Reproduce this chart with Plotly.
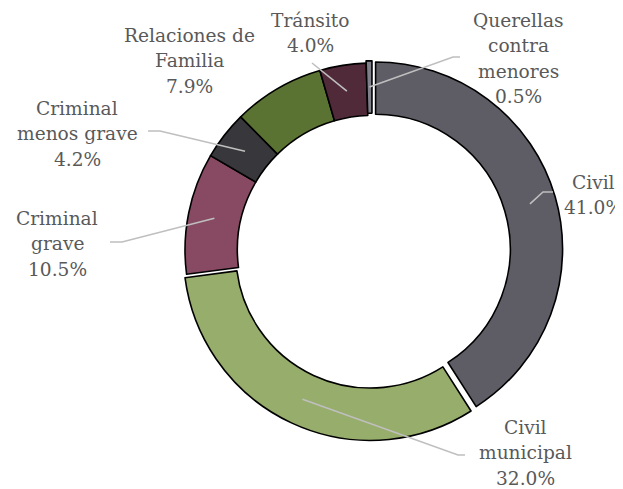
import math
import plotly.graph_objects as go

# ---- data ----
categories = ["Civil", "Civil municipal", "Criminal grave", "Criminal menos grave",
              "Relaciones de Familia", "Tránsito", "Querellas contra menores"]
values = [41.0, 32.0, 10.5, 4.2, 7.9, 4.0, 0.5]
label_lines = [["Civil"], ["Civil", "municipal"], ["Criminal", "grave"],
               ["Criminal", "menos grave"], ["Relaciones de", "Familia"],
               ["Tránsito"], ["Querellas", "contra", "menores"]]

# ---- styling / layout ----
colors = ["#5e5d65", "#97ad6b", "#874a62", "#38373c", "#5b7332", "#512a3a", "#80808a"]
pulls = [0.02, 0.02, 0, 0, 0, 0, 0.012]
OFF = 8                      # page body margin of the browser
WIN_W, WIN_H = 623, 489
W, H = WIN_W - OFF, WIN_H - OFF
CX, CY, R = 372, 250, 187    # window pixels
HOLE = 0.72
FONT = "DejaVu Serif"
FS = 18.6
LINE_H = 25.5
TXT_COL = "#595959"
LEAD_COL = "#bfbfbf"

# label placement (text centre x, first-line y) and leader end points, in window pixels
label_x = [593, 525, 57, 77, 189, 310, 518]
label_y = [182, 427, 218, 108, 35, 20, 20]
leader_end = [(553, 192), (465, 455), (110, 242), (148, 131), None, (312, 63), (460, 57)]
elbow_len = [10, 7, 12, 12, 0, 0, 7]

max_pull = max(pulls)
box = 2 * R * (1 + max_pull)


def px(x):
    return (x - OFF) / W


def py(y):
    return 1 - (y - OFF) / H


fig = go.Figure(go.Pie(
    labels=categories, values=values, sort=False, direction="clockwise", rotation=0,
    hole=HOLE, pull=pulls, textinfo="none", hoverinfo="label+percent",
    marker=dict(colors=colors, line=dict(color="#000000", width=1.6)),
    domain=dict(x=[px(CX - box / 2), px(CX + box / 2)],
                y=[py(CY + box / 2), py(CY - box / 2)]),
    showlegend=False,
))

total = sum(values)
cum = 0.0
shapes = []
annotations = []
for i, v in enumerate(values):
    mid = (cum + v / 2) / total * 2 * math.pi
    cum += v
    # leader line
    if leader_end[i] is not None:
        rr = R * ((1 + HOLE) / 2 + pulls[i])
        sx = CX + rr * math.sin(mid)
        sy = CY - rr * math.cos(mid)
        ex, ey = leader_end[i]
        pts = [(sx, sy)]
        if elbow_len[i]:
            d = 1 if ex > CX else -1
            pts.append((ex - d * elbow_len[i], ey))
        pts.append((ex, ey))
        path = "M " + " L ".join(f"{px(a):.5f},{py(b):.5f}" for a, b in pts)
        shapes.append(dict(type="path", xref="paper", yref="paper", path=path,
                           line=dict(color=LEAD_COL, width=1.6)))
    # label text
    lines = label_lines[i] + [f"{v:.1f}%"]
    for k, t in enumerate(lines):
        annotations.append(dict(
            text=t, x=px(label_x[i]), y=py(label_y[i] + k * LINE_H),
            xref="paper", yref="paper", xanchor="center", yanchor="middle",
            showarrow=False, font=dict(family=FONT, size=FS, color=TXT_COL)))

fig.update_layout(
    width=W, height=H, margin=dict(l=0, r=0, t=0, b=0),
    paper_bgcolor="white", plot_bgcolor="white",
    shapes=shapes, annotations=annotations,
)
fig.write_html("out.html")
